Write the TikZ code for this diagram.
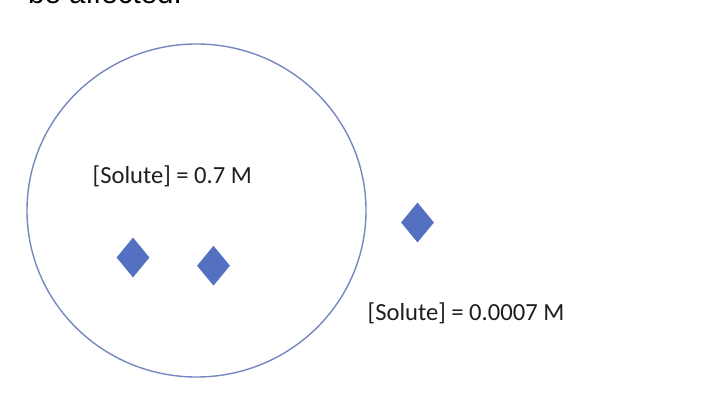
\documentclass[tikz,border=0pt]{standalone}
\usepackage{fontspec}
\setmainfont{Carlito}
\newfontfamily\headfont{Liberation Sans}
\usetikzlibrary{shapes.geometric}

\definecolor{solblue}{HTML}{5470C0}
\definecolor{cellline}{HTML}{7587BF}
\definecolor{textgray}{HTML}{1E1E1E}

\begin{document}
\begin{tikzpicture}[x=1pt,y=-1pt,
	solute/.style={diamond,fill=solblue,draw=none,inner sep=0pt,minimum width=33pt,minimum height=40pt},
	conc/.style={anchor=base west,inner sep=0pt,text=textgray,font=\fontsize{24.6}{28}\selectfont}]

	% Fix the page to the size of the picture
	\useasboundingbox (0,0) rectangle (722,411);
	\clip (0,0) rectangle (722,411);

	% End of the sentence above, cut off at the top
	\node[anchor=base west,inner sep=0pt,font=\headfont\fontsize{29.5}{32}\selectfont] (sentence) at (28,4) {be affected.};

	% Draw the cell
	\node[ellipse,draw=cellline,line width=1.4pt,minimum width=339pt,minimum height=333pt,inner sep=0pt] (cell) at (196.5,210.5) {};

	% Concentration inside the cell
	\node[conc] (inside) at (92.5,183.3) {[Solute] = 0.7 M};

	% Solute particles inside the cell
	\node[solute] (inA) at (133,257.5) {};
	\node[solute] (inB) at (213.5,265.7) {};

	% Solute particle outside the cell
	\node[solute] (outA) at (417.5,222.5) {};

	% Concentration outside the cell
	\node[conc] (outside) at (367.5,320) {[Solute] = 0.0007 M};

\end{tikzpicture}
\end{document}
